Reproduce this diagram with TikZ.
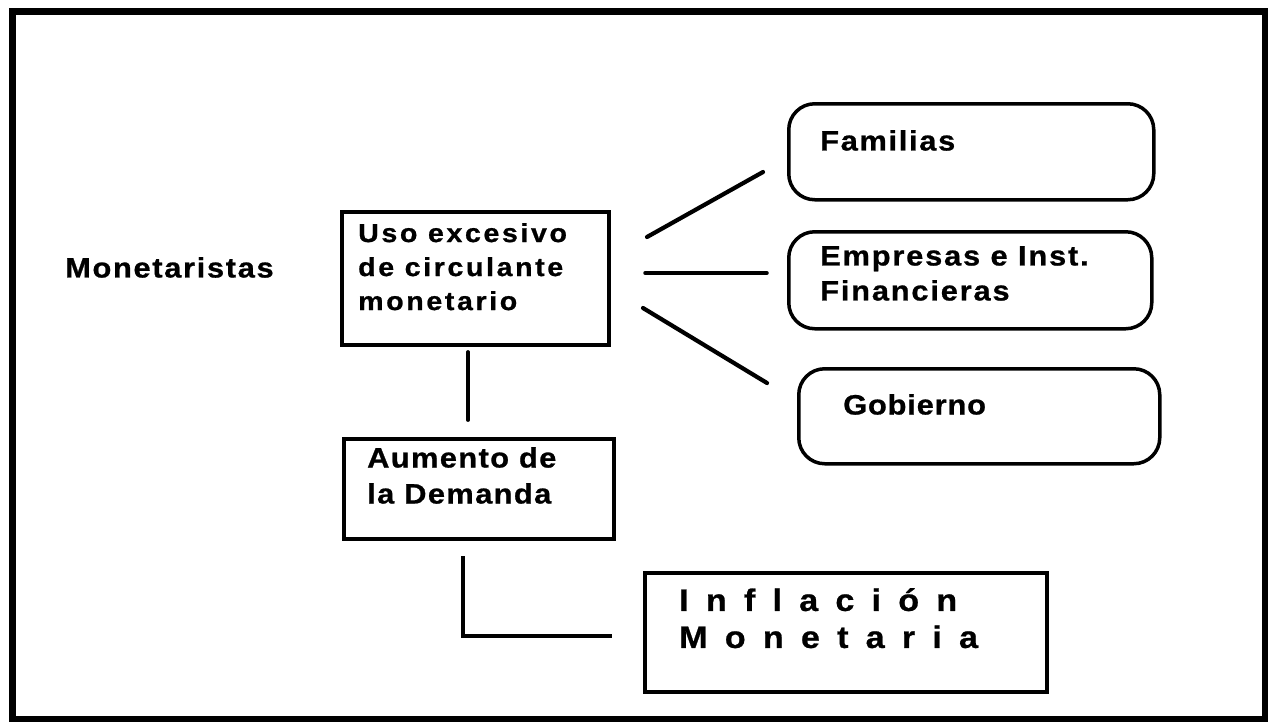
\documentclass[tikz,border=0pt]{standalone}
\usepackage{fontspec}
\setmainfont{Liberation Sans}
\newcommand\lsf[3]{\fontsize{#1}{#2}\selectfont\bfseries\addfontfeatures{LetterSpace=#3,FakeStretch=1.1,FakeBold=0.8}}
\begin{document}
\begin{tikzpicture}[x=1pt,y=-1pt,
  box/.style={draw, line width=3.5pt, inner sep=0pt, anchor=north west},
  rbox/.style={draw, line width=3.5pt, rounded corners=26pt, inner sep=0pt, anchor=north west},
  conn/.style={line width=4.2pt, line cap=round},
  txt/.style={inner sep=0pt, anchor=north west, align=left}]
\useasboundingbox (0,0) rectangle (1281,724);
\draw[line width=6.5pt] (12.5,11.5) rectangle (1265,719);

% left label
\node[txt, font=\lsf{28}{34}{6}] (mon) at (65,257) {Monetaristas};

% central boxes
\node[box, minimum width=267pt, minimum height=133pt] (uso) at (340,210) {};
\node[txt, font=\lsf{26}{34}{10}] (usot) at (358,223) {Uso excesivo\\de circulante\\monetario};
\node[box, minimum width=270pt, minimum height=100pt] (aum) at (342,437) {};
\node[txt, font=\lsf{28}{36}{5}] (aumt) at (367,447) {Aumento de\\la Demanda};
\node[box, minimum width=402pt, minimum height=119pt] (inf) at (643,571) {};
\node[txt, font=\lsf{31}{37}{25}] (inft) at (679,588) {I n f l a c i ó n\\M o n e t a r i a};

% right rounded boxes
\node[rbox, minimum width=365pt, minimum height=96pt] (fam) at (787,102) {};
\node[txt, font=\lsf{28}{34}{6}] (famt) at (820,130) {Familias};
\node[rbox, minimum width=363pt, minimum height=97pt] (emp) at (787,230) {};
\node[txt, font=\lsf{28}{35}{6.5}] (empt) at (820,246) {Empresas e Inst.\\Financieras};
\node[rbox, minimum width=361pt, minimum height=95pt] (gob) at (797,367) {};
\node[txt, font=\lsf{28}{34}{3}] (gobt) at (843,394) {Gobierno};

% connectors
\coordinate (c1a) at (647,237); \coordinate (c1b) at (763,172);
\coordinate (c2a) at (645,273); \coordinate (c2b) at (767,273);
\coordinate (c3a) at (643,308); \coordinate (c3b) at (767,383);
\coordinate (c4a) at (468,352); \coordinate (c4b) at (468,420);
\coordinate (c5a) at (463,556); \coordinate (c5b) at (463,636); \coordinate (c5c) at (612,636);
\draw[conn] (c1a) -- (c1b);
\draw[conn, line width=3.5pt] (c2a) -- (c2b);
\draw[conn] (c3a) -- (c3b);
\draw[conn, line width=3.8pt] (c4a) -- (c4b);
\draw[line width=3.8pt] (c5a) -- (c5b) -- (c5c);
\end{tikzpicture}
\end{document}
